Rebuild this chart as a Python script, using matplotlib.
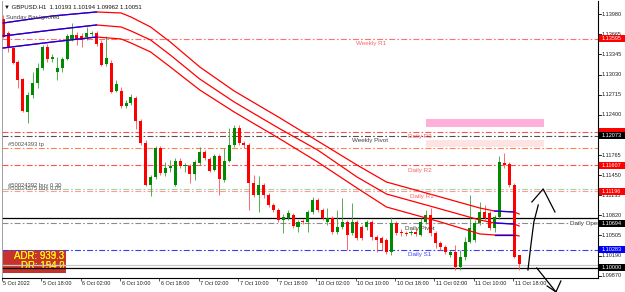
import numpy as np
import matplotlib
matplotlib.use("Agg")
import matplotlib.pyplot as plt
from matplotlib.patches import Rectangle

plt.rcParams['font.family'] = ['Liberation Sans', 'DejaVu Sans']
plt.rcParams['lines.scale_dashes'] = False

# GBPUSD H1 candles, 5 Oct 10:00 .. 11 Oct 19:00 (Sunday bars ignored)
opens = [1.13902, 1.13682, 1.13447, 1.13227, 1.12960, 1.12443, 1.12709, 1.12898, 1.13133, 1.13463,
         1.13274, 1.13070, 1.13133, 1.13274, 1.13588, 1.13651, 1.13635, 1.13619, 1.13667, 1.13682,
         1.13525, 1.13196, 1.13212, 1.12772, 1.12772, 1.12537, 1.12584, 1.12662, 1.12302, 1.11956,
         1.11297, 1.11423, 1.11878, 1.11486, 1.11564, 1.11297, 1.11674, 1.11595, 1.11595, 1.11470,
         1.11643, 1.11815, 1.11705, 1.11533, 1.11752, 1.11376, 1.11674, 1.11925, 1.12192, 1.11956,
         1.11925, 1.11329, 1.11140, 1.11297, 1.11140, 1.10984, 1.10905, 1.10748, 1.10780, 1.10827,
         1.10638, 1.10733, 1.10717, 1.10874, 1.11062, 1.10905, 1.10717, 1.10780, 1.10560, 1.10638,
         1.10717, 1.10544, 1.10717, 1.10638, 1.10638, 1.10717, 1.10481, 1.10466, 1.10434, 1.10246,
         1.10701, 1.10560, 1.10544, 1.10544, 1.10560, 1.10513, 1.10717, 1.10827, 1.10544, 1.10387,
         1.10325, 1.10199, 1.10246, 1.10011, 1.10168, 1.10403, 1.10434, 1.10701, 1.10874, 1.10858,
         1.10623, 1.10795, 1.11643, 1.11627, 1.11297, 1.10193]
highs = [1.13965, 1.13714, 1.13463, 1.13259, 1.12976, 1.12757, 1.13070, 1.13212, 1.13494, 1.13510,
         1.13353, 1.13306, 1.13306, 1.13667, 1.13839, 1.13698, 1.13682, 1.13776, 1.13714, 1.13714,
         1.13572, 1.13635, 1.13259, 1.12945, 1.12835, 1.12631, 1.12725, 1.12694, 1.12333, 1.12003,
         1.11454, 1.11909, 1.11909, 1.11658, 1.11690, 1.11721, 1.11721, 1.11643, 1.11627, 1.11690,
         1.11894, 1.11846, 1.11737, 1.11784, 1.11784, 1.11878, 1.12192, 1.12239, 1.12239, 1.11988,
         1.11956, 1.11454, 1.11439, 1.11329, 1.11172, 1.11015, 1.10936, 1.10842, 1.10905, 1.10858,
         1.10748, 1.10764, 1.10905, 1.11109, 1.11093, 1.10936, 1.10936, 1.10811, 1.10905, 1.11093,
         1.10748, 1.11015, 1.10748, 1.10670, 1.10748, 1.10748, 1.10513, 1.10497, 1.10466, 1.10795,
         1.10733, 1.10607, 1.10576, 1.10591, 1.10623, 1.10780, 1.10905, 1.10936, 1.10576, 1.10419,
         1.10356, 1.10277, 1.10356, 1.10277, 1.10481, 1.11140, 1.10748, 1.11031, 1.10984, 1.10889,
         1.10827, 1.11752, 1.11799, 1.11658, 1.11329, 1.10194]
lows = [1.13604, 1.13384, 1.13196, 1.12819, 1.12443, 1.12270, 1.12662, 1.12819, 1.13102, 1.13227,
        1.13227, 1.12945, 1.13070, 1.13259, 1.13557, 1.13494, 1.13463, 1.13572, 1.13635, 1.13478,
        1.13164, 1.13164, 1.12741, 1.12757, 1.12505, 1.12505, 1.12553, 1.12176, 1.11925, 1.11282,
        1.11125, 1.11391, 1.11454, 1.11439, 1.11501, 1.11282, 1.11564, 1.11501, 1.11329, 1.11376,
        1.11611, 1.11690, 1.11501, 1.11517, 1.11140, 1.11344, 1.11658, 1.11894, 1.11925, 1.11878,
        1.10905, 1.11109, 1.10874, 1.11093, 1.10952, 1.10874, 1.10717, 1.10544, 1.10748, 1.10623,
        1.10560, 1.10685, 1.10560, 1.10842, 1.10874, 1.10748, 1.10670, 1.10529, 1.10529, 1.10607,
        1.10277, 1.10513, 1.10434, 1.10434, 1.10591, 1.10434, 1.10246, 1.10277, 1.10215, 1.10199,
        1.10513, 1.10497, 1.10497, 1.10513, 1.10497, 1.10497, 1.10685, 1.10497, 1.10309, 1.10277,
        1.10215, 1.10168, 1.09964, 1.09964, 1.10121, 1.10387, 1.10403, 1.10670, 1.10748, 1.10591,
        1.10560, 1.10764, 1.11564, 1.11266, 1.10152, 1.09962]
closes = [1.13619, 1.13463, 1.13212, 1.12945, 1.12458, 1.12709, 1.12898, 1.13133, 1.13463, 1.13274,
          1.13306, 1.13133, 1.13274, 1.13635, 1.13651, 1.13588, 1.13572, 1.13682, 1.13682, 1.13510,
          1.13180, 1.13290, 1.12757, 1.12882, 1.12537, 1.12584, 1.12678, 1.12302, 1.11956, 1.11297,
          1.11423, 1.11878, 1.11486, 1.11564, 1.11595, 1.11674, 1.11595, 1.11611, 1.11470, 1.11658,
          1.11815, 1.11721, 1.11517, 1.11752, 1.11391, 1.11674, 1.11925, 1.12192, 1.11956, 1.11925,
          1.11329, 1.11140, 1.11297, 1.11140, 1.10984, 1.10905, 1.10748, 1.10795, 1.10858, 1.10654,
          1.10717, 1.10717, 1.10874, 1.11062, 1.10905, 1.10780, 1.10780, 1.10560, 1.10638, 1.10717,
          1.10513, 1.10717, 1.10466, 1.10466, 1.10717, 1.10481, 1.10434, 1.10387, 1.10246, 1.10701,
          1.10544, 1.10544, 1.10529, 1.10560, 1.10529, 1.10717, 1.10827, 1.10544, 1.10387, 1.10325,
          1.10246, 1.10246, 1.10011, 1.10168, 1.10403, 1.10623, 1.10701, 1.10874, 1.10780, 1.10623,
          1.10795, 1.11658, 1.11611, 1.11297, 1.10168, 1.10051]

tick_bars = [0, 8, 16, 24, 32, 40, 48, 56, 64, 72, 80, 88, 96, 104]
tick_labels = ["5 Oct 2022", "5 Oct 18:00", "6 Oct 02:00", "6 Oct 10:00", "6 Oct 18:00",
               "7 Oct 02:00", "7 Oct 10:00", "7 Oct 18:00", "10 Oct 02:00", "10 Oct 10:00",
               "10 Oct 18:00", "11 Oct 02:00", "11 Oct 10:00", "11 Oct 18:00"]

# moving average envelope, read at a few bars
ma_bars = [0, 10, 19, 24, 26, 30, 34, 40, 47, 56, 64, 72, 78, 89, 97, 100, 104, 105]
ma_upper = [1.13839, 1.13949, 1.14012, 1.13996, 1.13933, 1.13776, 1.13541, 1.13149, 1.12772,
            1.12364, 1.11988, 1.11611, 1.11344, 1.11109, 1.10936, 1.10889, 1.10874, 1.10842]
ma_mid = [1.13635, 1.13729, 1.13808, 1.13776, 1.13714, 1.13572, 1.13337, 1.12960, 1.12600,
          1.12192, 1.11846, 1.11423, 1.11156, 1.10921, 1.10748, 1.10701, 1.10685, 1.10654]
ma_lower = [1.13447, 1.13541, 1.13619, 1.13588, 1.13525, 1.13384, 1.13149, 1.12788, 1.12443,
            1.12035, 1.11658, 1.11250, 1.10952, 1.10717, 1.10529, 1.10513, 1.10513, 1.10497]

# pivot levels and order lines
level_prices = [1.13595, 1.12130, 1.12073, 1.11878, 1.11607, 1.11235, 1.11196, 1.10780, 1.10694, 1.10283, 1.10042, 1.10000]
level_colors = ['#FF7070', '#FF5050', '#505050', '#FF8050', '#FF5050', '#A0D8A0', '#FF9A9A', '#000000', '#8C8C8C', '#3C3CFF', '#C8C8C8', '#000000']
level_styles = ['dd', 'dd', 'dd', 'dd', 'dd', 'dd', 'dd', 'solid', 'dd', 'dd', 'solid', 'solid']

level_text = ["Weekly R1", "Daily R3", "Weekly Pivot", "Daily R2", "Daily R1", "Daily Pivot", "Daily S1"]
level_text_price = [1.13595, 1.12130, 1.12073, 1.11607, 1.11196, 1.10694, 1.10283]
level_text_bar = [71.8, 82.4, 71.0, 82.4, 82.8, 81.8, 82.4]
level_text_color = ['#FF6060', '#FF6060', '#404040', '#FF6060', '#FF6060', '#404040', '#4040FF']

order_text = ["#50024393 tp", "#50024392 buy 0.30", "#50024575 buy 0.05"]
order_text_price = [1.11925, 1.11297, 1.11242]

axis_prices = [1.13980, 1.13665, 1.13345, 1.13030, 1.12715, 1.12400, 1.11765,
               1.11450, 1.11135, 1.10820, 1.10505, 1.10190, 1.09870]
box_prices = [1.13595, 1.12073, 1.11607, 1.11196, 1.10694, 1.10283, 1.10000]
box_colors = ['#FF0000', '#000000', '#FF0000', '#FF0000', '#000000', '#0000FF', '#000000']
edge_box_price = 1.12130   # red box peeking out above the black one

zone_bars = [86.0, 110.0]
zone_hi = [1.12333, 1.12003]
zone_lo = [1.12207, 1.11894]
zone_colors = ['#FFB0D8', '#FFE2E2']

up_shaft_bars = [106.8, 107.4, 108.0, 108.9]
up_shaft_prices = [1.09964, 1.10356, 1.10717, 1.10984]
up_head_bars = [107.6, 109.9, 112.3]
up_head_prices = [1.11031, 1.11235, 1.10874]
down_shaft_bars = [108.6, 112.5]
down_shaft_prices = [1.09995, 1.09619]
down_head_bars = [110.7, 112.5, 113.5]
down_head_prices = [1.09713, 1.09619, 1.09791]

W, H = 625, 292
px_bar = 4.915          # pixels per bar
px_price = 0.0001569    # price per pixel
ymin, ymax = 1.09838, 1.14184

fig = plt.figure(figsize=(W / 100, H / 100), dpi=100)
ax = fig.add_axes([2 / W, 14 / H, 596 / W, 277 / H])
ax.set_xlim(-1 / px_bar, 595 / px_bar)
ax.set_ylim(ymin, ymax)

dd = (0, (4.3, 1.6, 1.2, 1.6))
for p, c, s in zip(level_prices, level_colors, level_styles):
    ax.axhline(p, color=c, lw=0.9 if s == 'solid' else 0.8, ls='-' if s == 'solid' else dd, zorder=1)

for i, lab in enumerate(level_text):
    ax.text(level_text_bar[i], level_text_price[i] - 2.5 * px_price, lab, fontsize=4.5,
            color=level_text_color[i], va='top', ha='left', zorder=4)
ax.text(1.0, order_text_price[0], order_text[0], fontsize=4.2, color='#505050', va='center', zorder=4)
ax.text(1.0, order_text_price[1], order_text[1], fontsize=4.2, color='#505050', va='center', zorder=4)
ax.text(1.0, order_text_price[2], order_text[2], fontsize=4.2, color='#606060', va='center', zorder=4)
ax.text(115.4, 1.10694, "Daily Open", fontsize=4.5, color='#303030', va='center', ha='left',
        clip_on=True, zorder=4, bbox=dict(fc='white', ec='none', pad=0.3))

for b0, hi, lo, c in zip([zone_bars[0]] * 2, zone_hi, zone_lo, zone_colors):
    ax.add_patch(Rectangle((b0, lo), zone_bars[1] - b0, hi - lo, fc=c, ec='none', zorder=0.5))

# candles
bars = np.arange(len(opens))
o, h, l, c = map(np.array, (opens, highs, lows, closes))
up = c >= o
col = np.where(up, '#008A00', '#FF0000')
ax.vlines(bars, l, h, colors=np.where(up, '#3CA03C', '#FF5050'), lw=0.6, zorder=2)
body = np.maximum(np.abs(c - o), 0.9 * px_price)
ax.bar(bars, body, bottom=np.minimum(o, c), width=0.62, color=col, lw=0, zorder=2.5)

# envelope: red overall, blue where it was rising / flat
for line in (ma_upper, ma_mid, ma_lower):
    ax.plot(ma_bars, line, color='#FF0000', lw=0.9, zorder=3)
    ax.plot(ma_bars[:3], line[:3], color='#0000FF', lw=0.9, zorder=3.1)
    ax.plot(ma_bars[-3:-1], line[-3:-1], color='#0000FF', lw=0.9, zorder=3.1)

# ADR panel
ax.add_patch(Rectangle((0, 1.09917), 12.8, 1.10277 - 1.09917, fc='#C8322D', ec='none', zorder=0.8))
for t in ("ADR: 939.3", "ADR: 933.3"):
    ax.text(12.4, 1.10183, t, fontsize=7, color='#FFFF00', ha='right', va='center', zorder=0.9)
for t in ("DR: 194.0", "DR: 154.2"):
    ax.text(12.4, 1.10027, t, fontsize=7, color='#FFFF00', ha='right', va='center', zorder=0.9)

# hand drawn arrows
for bx, py in ((up_shaft_bars, up_shaft_prices), (up_head_bars, up_head_prices),
               (down_shaft_bars, down_shaft_prices), (down_head_bars, down_head_prices)):
    ax.plot(bx, py, color='black', lw=0.9, clip_on=False, zorder=6)

# frame & time axis
ax.spines['top'].set_visible(False)
ax.spines['left'].set_color('#909090')
ax.spines['left'].set_linewidth(0.6)
for s in ('right', 'bottom'):
    ax.spines[s].set_color('black')
    ax.spines[s].set_linewidth(0.8)
ax.set_yticks([])
ax.set_xticks([b - 0.25 for b in tick_bars])
ax.tick_params(axis='x', length=2.5, width=0.6, labelbottom=False, color='#404040')
for b, lab in zip(tick_bars, tick_labels):
    ax.text(b + 0.1 if b else b - 0.05, -0.02, lab, transform=ax.get_xaxis_transform(),
            fontsize=4, ha='left', va='center', color='#202020')

# price scale
axr = fig.add_axes([598 / W, 14 / H, 27 / W, 277 / H])
axr.set_xlim(0, 27)
axr.set_ylim(ymin, ymax)
axr.axis('off')
for p in axis_prices:
    axr.plot([0, 2.5], [p, p], color='black', lw=0.6)
    axr.text(4, p, f"{p:.5f}", fontsize=4, va='center', ha='left', color='#202020')
bh = 7 * px_price
axr.add_patch(Rectangle((1, edge_box_price - bh / 2), 26, bh, fc='#FF0000', ec='none', zorder=2))
for p, c in zip(box_prices, box_colors):
    axr.add_patch(Rectangle((1, p - bh / 2), 26, bh, fc=c, ec='none', zorder=3))
    axr.text(4, p, f"{p:.5f}", fontsize=4, va='center', ha='left', color='white', zorder=4)

# header
fig.text(4 / W, 1 - 7.5 / H, "\u25bc GBPUSD.H1  1.10193 1.10194 1.09962 1.10051", fontsize=4.3,
         va='center', ha='left', color='#101010', zorder=7)
fig.text(6 / W, 1 - 17 / H, "Sunday Bar Ignored", fontsize=4.3, va='center', ha='left',
         color='#404040', zorder=7)

fig.savefig("out.png", dpi=100, facecolor='white')
